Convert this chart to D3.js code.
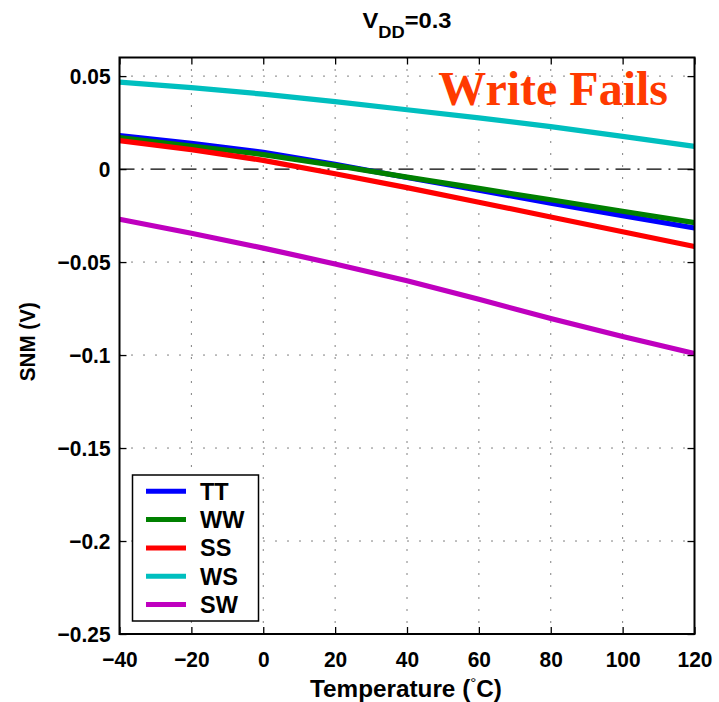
<!DOCTYPE html>
<html>
<head>
<meta charset="utf-8">
<script src="https://cdn.jsdelivr.net/npm/d3@7"></script>
<style>
  body { margin: 0; background: #fff; }
  svg { display: block; }
  text { font-family: "Liberation Sans", Arial, Helvetica, sans-serif; font-weight: bold; }
</style>
</head>
<body>
<svg id="chart" width="719" height="702"></svg>
<script>
// ---- data ----
const temperatures = [-40, -20, 0, 20, 40, 60, 80, 100, 120];
const seriesNames = ["TT", "WW", "SS", "WS", "SW"];
const seriesColors = ["#0000ff", "#008000", "#ff0000", "#00bfbf", "#bf00bf"];
const snmTT = [0.0180, 0.0138, 0.0090, 0.0025, -0.0045, -0.0114, -0.0183, -0.0250, -0.0317];
const snmWW = [0.0170, 0.0124, 0.0078, 0.0020, -0.0043, -0.0104, -0.0165, -0.0227, -0.0288];
const snmSS = [0.0153, 0.0105, 0.0047, -0.0025, -0.0100, -0.0178, -0.0258, -0.0337, -0.0416];
const snmWS = [0.0468, 0.0438, 0.0403, 0.0363, 0.0319, 0.0275, 0.0228, 0.0176, 0.0122];
const snmSW = [-0.0270, -0.0345, -0.0425, -0.0510, -0.0600, -0.0700, -0.0804, -0.0900, -0.0992];
const seriesValues = [snmTT, snmWW, snmSS, snmWS, snmSW];
const xTicks = [-40, -20, 0, 20, 40, 60, 80, 100, 120];
const xTickLabels = ["\u221240", "\u221220", "0", "20", "40", "60", "80", "100", "120"];
const yTicks = [-0.25, -0.2, -0.15, -0.1, -0.05, 0, 0.05];
const yTickLabels = ["\u22120.25", "\u22120.2", "\u22120.15", "\u22120.1", "\u22120.05", "0", "0.05"];
const xDomain = [-40, 120];
const yDomain = [-0.25, 0.06];

// ---- layout ----
const svg = d3.select("#chart");
const L = 119.5, R = 694.5, T = 57.5, B = 634;
const FS = "22px";
const SQ = 0.95;
const x = d3.scaleLinear().domain(xDomain).range([L, R]);
const y = d3.scaleLinear().domain(yDomain).range([B, T]);

function squeeze(sel) {
  sel.each(function () {
    const len = this.getComputedTextLength();
    if (len > 0) d3.select(this).attr("textLength", len * SQ).attr("lengthAdjust", "spacingAndGlyphs");
  });
}
// scale a text element horizontally so its width becomes targetW, keeping centre cx
function fitWidth(sel, targetW, cx) {
  const w = sel.node().getBBox().width;
  const k = targetW / w;
  sel.attr("transform", `translate(${cx},0) scale(${k},1) translate(${-cx},0)`);
}

// grid (dotted)
const grid = svg.append("g");
grid.selectAll("line.vg").data(xTicks.filter(d => d > xDomain[0] && d < xDomain[1])).enter()
  .append("line").attr("x1", d => x(d)).attr("x2", d => x(d)).attr("y1", T).attr("y2", B)
  .attr("stroke", "#000").attr("stroke-width", 1).attr("stroke-dasharray", "1,11");
grid.selectAll("line.hg").data(yTicks.filter(d => d > yDomain[0] && d < yDomain[1] && d !== 0)).enter()
  .append("line").attr("x1", L).attr("x2", R).attr("y1", d => y(d)).attr("y2", d => y(d))
  .attr("stroke", "#000").attr("stroke-width", 1).attr("stroke-dasharray", "1,11");

// zero reference (dash-dot)
svg.append("line").attr("x1", L).attr("x2", R).attr("y1", y(0)).attr("y2", y(0))
  .attr("stroke", "#000").attr("stroke-width", 1.3).attr("stroke-dasharray", "15,7,2,7");

// clip
svg.append("clipPath").attr("id", "clip").append("rect")
  .attr("x", L).attr("y", T).attr("width", R - L).attr("height", B - T);

const line = d3.line().x(d => x(d[0])).y(d => y(d[1]));
const lines = svg.append("g").attr("clip-path", "url(#clip)");
seriesValues.forEach((vals, i) => {
  lines.append("path")
    .datum(temperatures.map((t, j) => [t, vals[j]]))
    .attr("d", line).attr("fill", "none")
    .attr("stroke", seriesColors[i]).attr("stroke-width", 5.2)
    .attr("stroke-linejoin", "round");
});

// axes with inward ticks
const tickLen = 7;
const axB = svg.append("g").attr("transform", `translate(0,${B})`)
  .call(d3.axisBottom(x).tickValues(xTicks).tickSizeInner(-tickLen).tickSizeOuter(0)
    .tickFormat((d, i) => xTickLabels[i]).tickPadding(17));
const axT = svg.append("g").attr("transform", `translate(0,${T})`)
  .call(d3.axisTop(x).tickValues(xTicks).tickSizeInner(-tickLen).tickSizeOuter(0).tickFormat(""));
const axL = svg.append("g").attr("transform", `translate(${L},0)`)
  .call(d3.axisLeft(y).tickValues(yTicks).tickSizeInner(-tickLen).tickSizeOuter(0)
    .tickFormat((d, i) => yTickLabels[i]).tickPadding(9));
const axR = svg.append("g").attr("transform", `translate(${R},0)`)
  .call(d3.axisRight(y).tickValues(yTicks).tickSizeInner(-tickLen).tickSizeOuter(0).tickFormat(""));
[axB, axT, axL, axR].forEach(a => {
  a.select(".domain").remove();
  a.selectAll(".tick line").attr("stroke", "#000").attr("stroke-width", 1.3);
  a.selectAll("text").attr("fill", "#000").style("font-size", FS)
    .style("font-family", "'Liberation Sans', Arial, sans-serif").style("font-weight", "bold");
});
squeeze(axB.selectAll("text"));
squeeze(axL.selectAll("text"));

// box
svg.append("rect").attr("x", L).attr("y", T).attr("width", R - L).attr("height", B - T)
  .attr("fill", "none").attr("stroke", "#000").attr("stroke-width", 2);

// axis labels
const xl = svg.append("text").attr("x", 406).attr("y", 697).attr("text-anchor", "middle")
  .style("font-size", "24px");
xl.append("tspan").text("Temperature (");
xl.append("tspan").attr("dy", -9).style("font-size", "15px").style("font-weight", "normal").text("\u00b0");
xl.append("tspan").attr("dy", 9).text("C)");
fitWidth(xl, 192, 406);

const yl = svg.append("text").attr("transform", `translate(35,${(T + B) / 2 - 4}) rotate(-90)`)
  .attr("text-anchor", "middle").style("font-size", "22px").text("SNM (V)");
yl.attr("textLength", 79).attr("lengthAdjust", "spacingAndGlyphs");

// title
const title = svg.append("text").attr("x", 407).attr("y", 28).attr("text-anchor", "middle")
  .style("font-size", "22px");
title.append("tspan").text("V");
title.append("tspan").attr("dy", 10).style("font-size", "17px").text("DD");
title.append("tspan").attr("dy", -10).text("=0.3");
fitWidth(title, 89, 407);

// annotation
svg.append("text").attr("x", 668).attr("y", 105).attr("text-anchor", "end")
  .style("font-family", "'Liberation Serif', 'Times New Roman', serif")
  .style("font-weight", "bold").style("font-size", "48px").attr("fill", "#ff3a00")
  .text("Write Fails");

// legend
const lg = svg.append("g");
lg.append("rect").attr("x", 132.5).attr("y", 475).attr("width", 126).attr("height", 146)
  .attr("fill", "#fff").attr("stroke", "#000").attr("stroke-width", 1.5);
seriesNames.forEach((name, i) => {
  const yy = 491.3 + i * 28.3;
  lg.append("line").attr("x1", 146).attr("x2", 186).attr("y1", yy).attr("y2", yy)
    .attr("stroke", seriesColors[i]).attr("stroke-width", 5);
  lg.append("text").attr("x", 200).attr("y", yy + 8.5).style("font-size", "23.5px").text(name);
});
</script>
</body>
</html>
